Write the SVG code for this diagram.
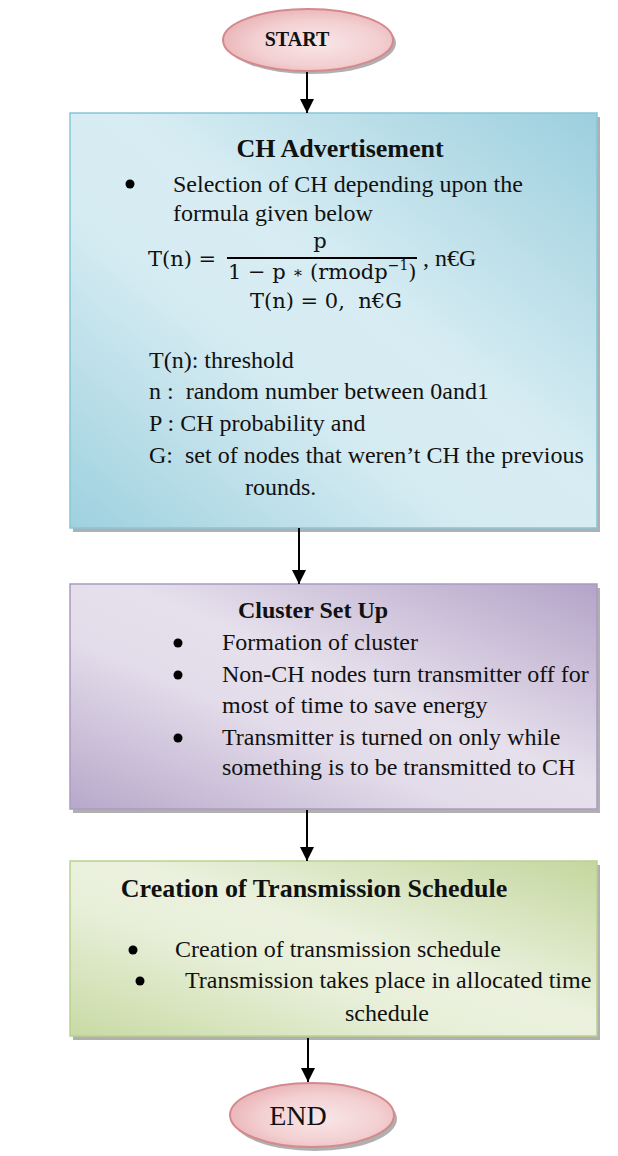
<svg xmlns="http://www.w3.org/2000/svg" width="618" height="1156" viewBox="0 0 618 1156">
<defs>
  <linearGradient id="gBlue" x1="1" y1="0" x2="0" y2="1">
    <stop offset="0" stop-color="#9ccfde"/>
    <stop offset="0.45" stop-color="#d8edf3"/>
    <stop offset="0.62" stop-color="#d5ebf2"/>
    <stop offset="1" stop-color="#9ed1df"/>
  </linearGradient>
  <linearGradient id="gPurple" x1="1" y1="0" x2="0" y2="1">
    <stop offset="0" stop-color="#b4a3c8"/>
    <stop offset="0.45" stop-color="#e6e0ec"/>
    <stop offset="0.62" stop-color="#e3dcea"/>
    <stop offset="1" stop-color="#b7a8ca"/>
  </linearGradient>
  <linearGradient id="gGreen" x1="1" y1="0" x2="0" y2="1">
    <stop offset="0" stop-color="#c4d79f"/>
    <stop offset="0.45" stop-color="#ebf1de"/>
    <stop offset="0.62" stop-color="#e8efd9"/>
    <stop offset="1" stop-color="#c8daa4"/>
  </linearGradient>
  <radialGradient id="gPink" cx="0.55" cy="0.55" r="0.6">
    <stop offset="0" stop-color="#f9e6e7"/>
    <stop offset="0.6" stop-color="#f3d0d2"/>
    <stop offset="1" stop-color="#e9b1b4"/>
  </radialGradient>
  <marker id="arr" markerUnits="userSpaceOnUse" markerWidth="14" markerHeight="14" refX="14" refY="7" orient="auto" viewBox="0 0 14 14">
    <path d="M0,0 L14,7 L0,14 Z" fill="#000"/>
  </marker>
</defs>
<style>
  .t{font-family:"Liberation Serif","Times New Roman",serif;font-size:24px;fill:#111}
  .b{font-weight:bold}
  .m{font-family:"DejaVu Serif",serif;font-size:21px;fill:#111}
  .sh{fill:#6f6f6f;opacity:0.55}
  .conn{stroke:#000;stroke-width:2;fill:none}
</style>

<g id="start">
  <ellipse class="sh" cx="311" cy="43" rx="85" ry="31"/>
  <ellipse cx="308" cy="40" rx="85" ry="31" fill="url(#gPink)" stroke="#d4898d" stroke-width="2"/>
  <text class="t b" x="297" y="46" text-anchor="middle" style="font-size:20px">START</text>
</g>

<g id="ch-advertisement">
  <rect class="sh" x="73" y="117" width="527" height="415"/>
  <rect x="70" y="113" width="527" height="415" fill="url(#gBlue)" stroke="#86c6d7" stroke-width="1.5"/>
  <text class="t b" x="340" y="157" text-anchor="middle" style="font-size:26px">CH Advertisement</text>
  <circle cx="130" cy="184" r="4.5" fill="#000"/>
  <text class="t" x="173" y="192">Selection of CH depending upon the</text>
  <text class="t" x="173" y="221">formula given below</text>
  <text class="m" x="148" y="266">T(n) =</text>
  <text class="m" x="320" y="248" text-anchor="middle">p</text>
  <line x1="227" y1="258" x2="417" y2="258" stroke="#000" stroke-width="1.8"/>
  <text class="m" x="228" y="279">1 − p <tspan style="font-size:16px" dy="-1">∗</tspan><tspan dy="1"> (rmodp</tspan><tspan dy="-9" style="font-size:14px">−1</tspan><tspan dy="9">)</tspan></text>
  <text class="t" x="423" y="266">, n€G</text>
  <text class="m" x="250" y="308" xml:space="preserve">T(n) = 0,  n€G</text>
  <text class="t" x="149" y="368">T(n): threshold</text>
  <text class="t" x="149" y="399" xml:space="preserve">n :  random number between 0and1</text>
  <text class="t" x="149" y="431">P : CH probability and</text>
  <text class="t" x="149" y="463" xml:space="preserve">G:  set of nodes that weren’t CH the previous</text>
  <text class="t" x="245" y="495">rounds.</text>
</g>

<g id="cluster-set-up">
  <rect class="sh" x="73" y="588" width="527" height="225"/>
  <rect x="70" y="584" width="527" height="225" fill="url(#gPurple)" stroke="#ab9bc2" stroke-width="1.5"/>
  <text class="t b" x="313" y="618" text-anchor="middle">Cluster Set Up</text>
  <circle cx="178" cy="643" r="4.5" fill="#000"/>
  <text class="t" x="222" y="650">Formation of cluster</text>
  <circle cx="178" cy="675" r="4.5" fill="#000"/>
  <text class="t" x="222" y="682">Non-CH nodes turn transmitter off for</text>
  <text class="t" x="222" y="713">most of time to save energy</text>
  <circle cx="178" cy="738" r="4.5" fill="#000"/>
  <text class="t" x="222" y="745">Transmitter is turned on only while</text>
  <text class="t" x="222" y="775">something is to be transmitted to CH</text>
</g>

<g id="transmission-schedule">
  <rect class="sh" x="73" y="865" width="527" height="175"/>
  <rect x="70" y="861" width="527" height="175" fill="url(#gGreen)" stroke="#bcd190" stroke-width="1.5"/>
  <text class="t b" x="314" y="897" text-anchor="middle" style="font-size:26px">Creation of Transmission Schedule</text>
  <circle cx="133" cy="950" r="4.5" fill="#000"/>
  <text class="t" x="175" y="957">Creation of transmission schedule</text>
  <circle cx="140" cy="981" r="4.5" fill="#000"/>
  <text class="t" x="185" y="988">Transmission takes place in allocated time</text>
  <text class="t" x="345" y="1021">schedule</text>
</g>

<g id="end">
  <ellipse class="sh" cx="315" cy="1119" rx="82" ry="32"/>
  <ellipse cx="312" cy="1115" rx="82" ry="32" fill="url(#gPink)" stroke="#d4898d" stroke-width="2"/>
  <text class="t" x="298" y="1125" text-anchor="middle" style="font-size:28px">END</text>
</g>

<g id="connectors">
  <line class="conn" x1="307" y1="72" x2="307" y2="113" marker-end="url(#arr)"/>
  <line class="conn" x1="299" y1="528" x2="299" y2="584" marker-end="url(#arr)"/>
  <line class="conn" x1="307" y1="810" x2="307" y2="861" marker-end="url(#arr)"/>
  <line class="conn" x1="308" y1="1038" x2="308" y2="1082" marker-end="url(#arr)"/>
</g>
</svg>
